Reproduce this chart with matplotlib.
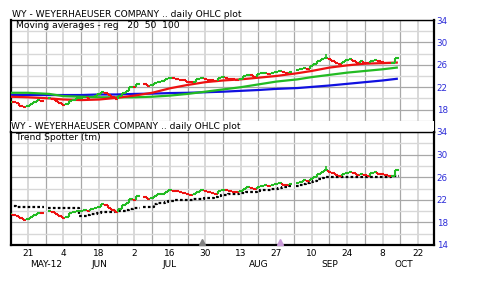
import numpy as np
import pandas as pd
import matplotlib
matplotlib.use("Agg")
import matplotlib.pyplot as plt
from matplotlib.collections import LineCollection
from matplotlib.patches import Rectangle

# ---------------- data ----------------
start_date = "2012-05-14"
end_date = "2012-10-12"
holidays = ["2012-05-28", "2012-07-04", "2012-09-03"]

# daily closes, one row per week
closes_weekly = [
    [19.4, 19.3, 19.1, 18.7, 18.5],          # May 14-18
    [18.6, 19.0, 19.3, 19.7, 19.6],          # May 21-25
    [20.0, 19.9, 19.5, 19.2],                # May 29-Jun 1
    [18.8, 19.0, 19.6, 19.8, 20.0],          # Jun 4-8
    [20.1, 20.2, 20.0, 20.3, 20.5],          # Jun 11-15
    [20.8, 21.2, 21.0, 20.6, 20.2],          # Jun 18-22
    [19.9, 20.4, 21.0, 21.4, 22.1],          # Jun 25-29
    [22.0, 22.6, 22.5, 22.2],                # Jul 2,3,5,6
    [22.4, 22.7, 23.0, 23.1, 23.4],          # Jul 9-13
    [23.7, 23.6, 23.5, 23.3, 23.2],          # Jul 16-20
    [23.0, 22.9, 23.0, 23.4, 23.7],          # Jul 23-27
    [23.5, 23.3, 23.2, 23.1, 23.6],          # Jul 30-Aug 3
    [23.8, 23.7, 23.5, 23.4, 23.3],          # Aug 6-10
    [23.5, 24.0, 24.2, 24.1, 23.9],          # Aug 13-17
    [24.3, 24.5, 24.6, 24.4, 24.6],          # Aug 20-24
    [24.8, 24.9, 24.7, 24.6, 24.8],          # Aug 27-31
    [25.0, 25.2, 25.5, 25.3],                # Sep 4-7
    [25.7, 26.1, 26.6, 27.0, 27.3],          # Sep 10-14
    [27.0, 26.7, 26.4, 26.2, 26.5],          # Sep 17-21
    [26.8, 27.0, 26.7, 26.4, 26.6],          # Sep 24-28
    [26.4, 26.3, 26.7, 26.9, 26.6],          # Oct 1-5
    [26.5, 26.4, 26.3, 26.3, 27.2],          # Oct 8-12
]
spike_date = "2012-09-14"
spike_high = 28.0

# Trend Spotter (tm) daily values
trend_weekly = [
    [20.9, 20.9, 20.8, 20.8, 20.8],
    [20.8, 20.8, 20.8, 20.8, 20.8],
    [20.6, 20.6, 20.6, 20.6],
    [20.5, 20.5, 20.5, 20.5, 20.5],
    [19.2, 19.2, 19.3, 19.4, 19.5],
    [19.7, 19.8, 19.8, 19.9, 19.9],
    [20.0, 20.0, 20.1, 20.2, 20.4],
    [20.6, 20.6, 20.7, 20.7],
    [20.7, 21.3, 21.4, 21.5, 21.6],
    [21.7, 21.8, 21.9, 21.9, 21.9],
    [22.0, 22.0, 22.1, 22.2, 22.2],
    [22.3, 22.3, 22.4, 22.5, 22.6],
    [22.8, 22.9, 23.0, 23.1, 23.1],
    [23.2, 23.2, 23.3, 23.4, 23.4],
    [23.6, 23.7, 23.8, 23.8, 23.9],
    [24.0, 24.1, 24.2, 24.3, 24.4],
    [24.5, 24.6, 24.8, 24.9],
    [25.1, 25.4, 25.7, 25.9, 26.0],
    [26.1, 26.1, 26.1, 26.1, 26.1],
    [26.1, 26.1, 26.1, 26.1, 26.1],
    [26.1, 26.1, 26.1, 26.1, 26.1],
    [26.1, 26.1, 26.1, 26.2, 26.3],
]

# moving averages read at weekly points
ma_dates = ["2012-05-14", "2012-05-21", "2012-05-29", "2012-06-04", "2012-06-11",
            "2012-06-18", "2012-06-25", "2012-07-02", "2012-07-09", "2012-07-16",
            "2012-07-23", "2012-07-30", "2012-08-06", "2012-08-13", "2012-08-20",
            "2012-08-27", "2012-09-04", "2012-09-10", "2012-09-17", "2012-09-24",
            "2012-10-01", "2012-10-08", "2012-10-12"]
ma20 = [20.3, 20.2, 20.0, 19.8, 19.7, 19.8, 20.1, 20.5, 21.0, 21.8, 22.4, 22.9,
        23.2, 23.4, 23.7, 24.0, 24.5, 24.9, 25.5, 25.9, 26.2, 26.3, 26.4]
ma50 = [21.0, 21.0, 20.8, 20.4, 20.3, 20.2, 20.2, 20.2, 20.3, 20.5, 20.8, 21.2,
        21.6, 22.0, 22.5, 23.0, 23.4, 23.8, 24.2, 24.6, 24.9, 25.2, 25.5]
ma100 = [20.6, 20.6, 20.6, 20.6, 20.6, 20.7, 20.7, 20.8, 20.85, 20.95, 21.0, 21.1,
         21.2, 21.35, 21.5, 21.7, 21.85, 22.05, 22.3, 22.6, 22.9, 23.2, 23.5]

# axis labels
tick_dates = ["2012-05-21", "2012-06-04", "2012-06-18", "2012-07-02", "2012-07-16",
              "2012-07-30", "2012-08-13", "2012-08-27", "2012-09-10", "2012-09-24",
              "2012-10-08", "2012-10-22"]
tick_labels = ["21", "4", "18", "2", "16", "30", "13", "27", "10", "24", "8", "22"]
month_labels = ["MAY-12", "JUN", "JUL", "AUG", "SEP", "OCT"]
month_label_dates = ["2012-05-28", "2012-06-18", "2012-07-16", "2012-08-20",
                     "2012-09-17", "2012-10-16"]
event_dates = ["2012-07-27", "2012-08-28"]
event_colors = ["#808080", "#c89ad8"]

title = "WY - WEYERHAEUSER COMPANY .. daily OHLC plot"

# ---------------- helpers ----------------
d0 = np.datetime64(start_date)


def bpos(ds):
    arr = np.array(pd.to_datetime(ds).values.astype("datetime64[D]"))
    return np.busday_count(d0, arr)


dates = pd.bdate_range(start_date, end_date)
dates = dates[~dates.isin(pd.to_datetime(holidays))]
x = bpos(dates).astype(float)
closes = np.array([v for w in closes_weekly for v in w])
trend = np.array([v for w in trend_weekly for v in w])
assert len(closes) == len(x) == len(trend)

RED = "#ee1111"
GREEN = "#22bb22"
BLUE = "#1010e0"
LBLUE = "#2b2bd8"


def price_segments(xv, yv):
    segs, cols = [], []
    for i in range(len(xv)):
        up = True
        if i > 0 and xv[i] - xv[i - 1] == 1:
            up = yv[i] >= yv[i - 1]
            segs.append([(xv[i] - 0.5, yv[i - 1]), (xv[i] - 0.5, yv[i])])
            cols.append(GREEN if up else RED)
        elif i > 0:
            up = yv[i] >= yv[i - 1]
        segs.append([(xv[i] - 0.5, yv[i]), (xv[i] + 0.5, yv[i])])
        cols.append(GREEN if up else RED)
    return segs, cols


def step_xy(xv, yv):
    xs, ys = [], []
    for i in range(len(xv)):
        if i > 0 and xv[i] - xv[i - 1] != 1:
            xs.append(np.nan); ys.append(np.nan)
        xs += [xv[i] - 0.5, xv[i] + 0.5]
        ys += [yv[i], yv[i]]
    return np.array(xs), np.array(ys)


# ---------------- figure ----------------
W, H = 480, 282
fig = plt.figure(figsize=(W / 100, H / 100), dpi=100)
left, right = 11 / W, 434 / W
ax1 = fig.add_axes([left, 1 - 132 / H, right - left, 112 / H])
ax2 = fig.add_axes([left, 1 - 245 / H, right - left, 113 / H])

xmin, xmax = 0.2, 119.5
maj_x = bpos(tick_dates)
min_x = maj_x[:-1] + 5

for ax in (ax1, ax2):
    ax.set_xlim(xmin, xmax)
    ax.set_ylim(14, 34)
    ax.set_xticks(maj_x)
    ax.set_xticks(min_x, minor=True)
    ax.set_yticks([14, 18, 22, 26, 30, 34])
    ax.set_yticks([16, 20, 24, 28, 32], minor=True)
    ax.grid(which="major", axis="x", color="#d8d8d8", lw=1.4, zorder=0)
    ax.grid(which="minor", axis="x", color="#a8a8a8", lw=0.9, zorder=0)
    ax.grid(which="major", axis="y", color="#a8a8a8", lw=0.9, zorder=0)
    ax.grid(which="minor", axis="y", color="#d8d8d8", lw=1.0, zorder=0)
    ax.set_axisbelow(True)
    ax.yaxis.tick_right()
    ax.tick_params(axis="both", which="both", length=0)
    ax.tick_params(axis="y", pad=2, labelsize=6.3, labelcolor=LBLUE)
    for s in ("left", "right"):
        ax.spines[s].set_linewidth(1.6)
    ax.spines["top"].set_linewidth(1.0)
    ax.spines["bottom"].set_linewidth(1.6)

ax1.set_yticklabels(["", "18", "22", "26", "30", "34"])
ax1.set_xticklabels([])
ax2.set_xticklabels(tick_labels, fontsize=6.5)
ax2.tick_params(axis="x", pad=3)

# top panel: price + moving averages
mx = bpos(ma_dates)
ax1.plot(mx, ma100, color=BLUE, lw=1.6, zorder=3)
ax1.plot(mx, ma50, color=GREEN, lw=1.6, zorder=3)
ax1.plot(mx, ma20, color=RED, lw=1.6, zorder=3)
segs, cols = price_segments(x, closes)
ax1.add_collection(LineCollection(segs, colors=cols, linewidths=1.5, zorder=4))
sx = bpos([spike_date])[0]
sc = closes[list(x).index(sx)]
ax1.vlines(sx, sc, spike_high, color=GREEN, lw=1.2, zorder=4)

ax1.add_patch(Rectangle((xmin, 14), xmax - xmin, 2, facecolor="white",
                        edgecolor="none", zorder=5))
ax1.text(0.3, 15.0, title, fontsize=6.6, va="center", ha="left", zorder=6)
ax1.text(1.7, 33.0, "Moving averages - reg   20  50  100", fontsize=6.6,
         va="center", ha="left", zorder=6)
fig.text(12 / W, 1 - 14.5 / H, title, fontsize=6.6, va="center", ha="left")

# bottom panel: price + trend spotter
tx, ty = step_xy(x, trend)
ax2.plot(tx, ty, color="black", lw=1.6, ls=(0, (1.2, 1.0)), zorder=3)
segs, cols = price_segments(x, closes)
ax2.add_collection(LineCollection(segs, colors=cols, linewidths=1.5, zorder=4))
ax2.vlines(sx, sc, spike_high, color=GREEN, lw=1.2, zorder=4)
ax2.text(1.7, 33.0, "Trend Spotter (tm)", fontsize=6.6, va="center", ha="left",
         zorder=6)

ex = bpos(event_dates)
for xe, ce in zip(ex, event_colors):
    ax2.plot([xe], [14.45], marker="^", ms=4.5, color=ce, mec=ce, zorder=6,
             clip_on=False)

# month labels
for lab, d in zip(month_labels, month_label_dates):
    ax2.text(bpos([d])[0], 14 - 19.5 / 5.65, lab, fontsize=6.5, ha="center",
             va="center", transform=ax2.transData)

fig.savefig("out.png", dpi=100, facecolor="white")
